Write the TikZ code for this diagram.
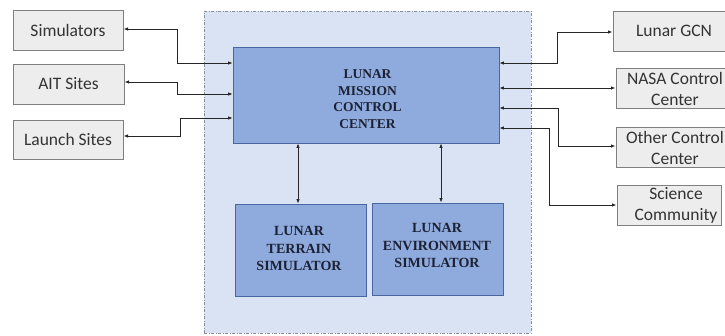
\documentclass[tikz,border=0pt]{standalone}
\usepackage{fontspec}
\setmainfont{Liberation Serif}
\newfontfamily\carl{Carlito}
\usetikzlibrary{arrows.meta}

\definecolor{framefill}{HTML}{DAE3F3}
\definecolor{frameline}{HTML}{8A8F99}
\definecolor{blockfill}{HTML}{8FAADC}
\definecolor{blockline}{HTML}{4A66A0}
\definecolor{blocktext}{HTML}{1C2236}
\definecolor{extfill}{HTML}{EDEDED}
\definecolor{extline}{HTML}{7F7F7F}
\definecolor{exttext}{HTML}{333333}
\definecolor{wire}{HTML}{262626}

\tikzset{
  block/.style={draw=blockline, fill=blockfill, line width=0.8pt, inner sep=0pt},
  blocktxt/.style={inner sep=0pt, text=blocktext, align=center,
    font=\fontsize{14}{17.5}\selectfont\bfseries},
  extbox/.style={draw=extline, fill=extfill, line width=1pt, inner sep=0pt,
    minimum height=40pt, text=exttext, align=center,
    font=\carl\fontsize{17.5}{21}\selectfont},
  exttxt/.style={inner sep=0pt, text=exttext, align=center,
    font=\carl\fontsize{17.5}{21}\selectfont},
  conn/.style={draw=wire, line width=0.8pt,
    {Latex[length=4.5pt,width=3.5pt]}-{Latex[length=4.5pt,width=3.5pt]}},
}

\begin{document}
\begin{tikzpicture}[x=1pt,y=-1pt]
\useasboundingbox (0,0) rectangle (725,335);
\clip (0,0) rectangle (725,335);

% shaded lunar segment
\node[draw=frameline, fill=framefill, line width=0.8pt,
      dash pattern=on 3pt off 1.5pt on 1pt off 1.5pt,
      minimum width=327pt, minimum height=322pt, inner sep=0pt]
      (segment) at (367.5,172) {};

% lunar blocks
\node[block, minimum width=266pt, minimum height=96pt] (lmcc) at (366,95) {};
\node[blocktxt, font=\fontsize{13.5}{16.7}\selectfont\bfseries] (lmcctxt) at (367.5,99)
  {LUNAR\\MISSION\\CONTROL\\CENTER};
\node[block, minimum width=131pt, minimum height=92pt] (terrain) at (300.5,250) {};
\node[blocktxt] (terraintxt) at (299,248.5) {LUNAR\\TERRAIN\\SIMULATOR};
\node[block, minimum width=131pt, minimum height=92pt] (env) at (437.5,249) {};
\node[blocktxt] (envtxt) at (437,245.5) {LUNAR\\ENVIRONMENT\\SIMULATOR};

% external facilities, left
\node[extbox, minimum width=110pt] (sim) at (68,30) {Simulators};
\node[extbox, minimum width=111pt] (ait) at (68.5,84) {AIT Sites};
\node[extbox, minimum width=110pt, minimum height=39pt] (launch) at (68,139.5) {Launch Sites};

% external facilities, right
\node[extbox, minimum width=122pt] (gcn) at (674,31) {};
\node[exttxt] (gcntxt) at (674,31) {Lunar GCN};
\node[extbox, minimum width=119pt] (nasa) at (675.5,88) {};
\node[exttxt] (nasatxt) at (675,88.5) {NASA Control\\Center};
\node[extbox, minimum width=119pt] (other) at (675.5,147) {};
\node[exttxt] (othertxt) at (675,147.5) {Other Control\\Center};
\node[extbox, minimum width=104pt] (sci) at (669,205) {};
\node[exttxt] (scitxt) at (676,205.5) {Science\\Community};

% links on the left
\draw[conn] (sim.east |- 0,29) -| (177,63) -- (lmcc.west |- 0,63);
\draw[conn] (ait.east |- 0,82) -| (177,94) -- (lmcc.west |- 0,94);
\draw[conn] (launch.east |- 0,136) -| (180,118) -- (lmcc.west |- 0,118);

% links on the right
\draw[conn] (lmcc.east |- 0,63) -| (557,32) -- (gcn.west |- 0,32);
\draw[conn] (lmcc.east |- 0,88) -- (nasa.west |- 0,88);
\draw[conn] (lmcc.east |- 0,108) -| (558,146) -- (other.west |- 0,146);
\draw[conn] (lmcc.east |- 0,128) -| (549,205) -- (sci.west |- 0,205);

% links to the simulators
\draw[conn] (lmcc.south -| 298,0) -- (terrain.north -| 298,0);
\draw[conn] (lmcc.south -| 441,0) -- (env.north -| 441,0);
\end{tikzpicture}
\end{document}
